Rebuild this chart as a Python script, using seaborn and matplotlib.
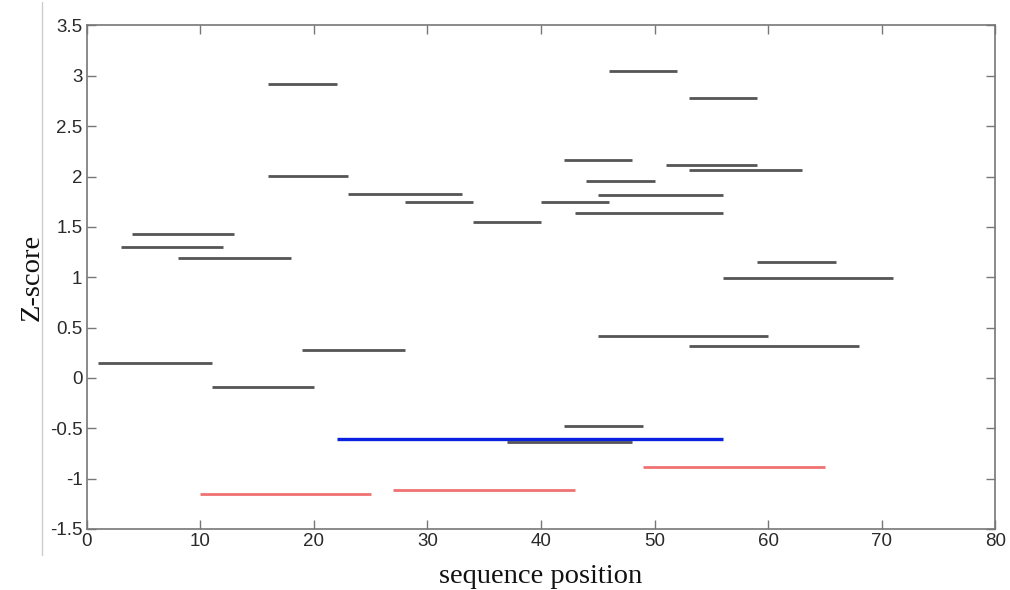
import numpy as np
import pandas as pd
import matplotlib
matplotlib.use("Agg")
import matplotlib.pyplot as plt
import seaborn as sns
from matplotlib.lines import Line2D

# segment data: start, end, z-score
gray_start = [16, 16, 23, 28, 4, 3, 8, 46, 53, 42, 51, 53, 44, 40, 45, 43, 34, 59, 56,
              1, 11, 19, 45, 53, 42, 37]
gray_end   = [22, 23, 33, 34, 13, 12, 18, 52, 59, 48, 59, 63, 50, 46, 56, 56, 40, 66, 71,
              11, 20, 28, 60, 68, 49, 48]
gray_z     = [2.92, 2.005, 1.83, 1.745, 1.425, 1.305, 1.195, 3.05, 2.78, 2.16, 2.11, 2.065,
              1.955, 1.745, 1.82, 1.635, 1.55, 1.155, 0.995,
              0.15, -0.09, 0.28, 0.415, 0.315, -0.48, -0.64]
blue_start = [22]
blue_end = [56]
blue_z = [-0.61]
red_start = [10, 27, 49]
red_end = [25, 43, 65]
red_z = [-1.15, -1.115, -0.88]

xticks = [0, 10, 20, 30, 40, 50, 60, 70, 80]
yticks = [-1.5, -1, -0.5, 0, 0.5, 1, 1.5, 2, 2.5, 3, 3.5]
ytick_labels = ["-1.5", "-1", "-0.5", "0", "0.5", "1", "1.5", "2", "2.5", "3", "3.5"]

rows = []
seg = 0
for grp, S, E, Z in [("gray", gray_start, gray_end, gray_z),
                     ("red", red_start, red_end, red_z),
                     ("blue", blue_start, blue_end, blue_z)]:
    for s, e, z in zip(S, E, Z):
        rows.append({"x": s, "y": z, "seg": seg, "group": grp})
        rows.append({"x": e, "y": z, "seg": seg, "group": grp})
        seg += 1
df = pd.DataFrame(rows)

sns.set_theme(style="white")
plt.rcParams["font.family"] = ["Liberation Sans", "DejaVu Sans"]

fig = plt.figure(figsize=(10.10, 5.90), dpi=100)
ax = fig.add_axes([0.0858, 0.1034, 0.9856 - 0.0858, 0.9568 - 0.1034])

palette = {"gray": "#555555", "red": "#F07272", "blue": "#0A22E0"}
sizes = {"gray": 2.0, "red": 2.0, "blue": 2.4}
for grp in ["gray", "red", "blue"]:
    sub = df[df["group"] == grp]
    sns.lineplot(data=sub, x="x", y="y", units="seg", estimator=None,
                 color=palette[grp], linewidth=sizes[grp], ax=ax,
                 legend=False, sort=False, solid_capstyle="butt")

ax.set_xlim(0, 80)
ax.set_ylim(-1.5, 3.5)
ax.set_xticks(xticks)
ax.set_xticklabels([str(t) for t in xticks])
ax.set_yticks(yticks)
ax.set_yticklabels(ytick_labels)
ax.tick_params(axis="both", which="both", direction="in", length=6.5, width=1.0,
               color="#777777", labelsize=13.5, labelcolor="#2a2a2a",
               top=True, right=True, bottom=True, left=True, pad=3)
for sp in ax.spines.values():
    sp.set_visible(True)
    sp.set_color("#777777")
    sp.set_linewidth(1.2)

ax.set_xlabel("sequence position", family=["Liberation Serif", "DejaVu Serif"],
              fontsize=20.5, color="#111111", labelpad=10)
ax.set_ylabel("Z-score", family=["Liberation Serif", "DejaVu Serif"],
              fontsize=20.5, color="#111111", labelpad=4)

# thin border line at the left of the image
fig.add_artist(Line2D([42/1010, 42/1010], [1 - 555/590, 1 - 2/590],
                      transform=fig.transFigure, color="#cccccc", linewidth=1.0))

fig.savefig("out.png", dpi=100, facecolor="white")
